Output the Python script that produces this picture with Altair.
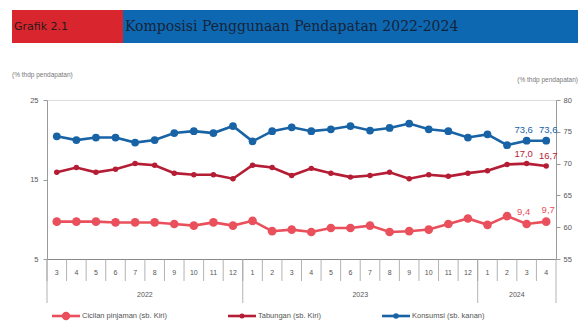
import altair as alt
import pandas as pd

# ---------------- data ----------------
months = [3, 4, 5, 6, 7, 8, 9, 10, 11, 12,
          1, 2, 3, 4, 5, 6, 7, 8, 9, 10, 11, 12,
          1, 2, 3, 4]
years = [2022] * 10 + [2023] * 12 + [2024] * 4

cicilan = [9.7, 9.7, 9.7, 9.6, 9.6, 9.6, 9.4, 9.2, 9.6, 9.2,
           9.8, 8.5, 8.7, 8.4, 8.9, 8.9, 9.2, 8.4, 8.5, 8.7, 9.4, 10.1,
           9.3, 10.4, 9.4, 9.7]
tabungan = [15.9, 16.5, 15.9, 16.3, 17.0, 16.8, 15.8, 15.6, 15.6, 15.1,
            16.8, 16.5, 15.5, 16.4, 15.8, 15.3, 15.5, 15.9, 15.1, 15.6, 15.4, 15.8,
            16.1, 16.9, 17.0, 16.7]
konsumsi = [74.3, 73.7, 74.1, 74.1, 73.3, 73.7, 74.8, 75.1, 74.8, 75.9,
            73.5, 75.1, 75.7, 75.1, 75.4, 75.9, 75.2, 75.6, 76.3, 75.4, 75.1, 74.1,
            74.6, 72.9, 73.6, 73.6]

series_names = ["Cicilan pinjaman (sb. Kiri)", "Tabungan (sb. Kiri)", "Konsumsi (sb. kanan)"]
year_labels = ["2022", "2023", "2024"]
left_ticks = [5, 15, 25]
right_ticks = [55, 60, 65, 70, 75, 80]
title_tag = "Grafik 2.1"
title_text = "Komposisi Penggunaan Pendapatan 2022-2024"
unit_text = "(% thdp pendapatan)"

# ---------------- styling ----------------
PINK = "#e9505c"
RED = "#b51d35"
BLUE = "#1763a5"
GREY = "#555555"
AXC = "#9a9a9a"
FONT = "Liberation Sans"

W, H = 509, 159

keys = [f"{y}-{m}" for y, m in zip(years, months)]

x_axis = alt.Axis(title=None, labelExpr="split(datum.value, '-')[1]", ticks=False,
                  domain=True, domainColor="#888888", labelFontSize=7, labelColor=GREY,
                  labelPadding=9, labelAngle=0, grid=False, labelFont=FONT)


def X(bp=0.5):
    return alt.X("key:O", sort=keys,
                 scale=alt.Scale(type="band", domain=keys, paddingInner=0, paddingOuter=0),
                 axis=x_axis, bandPosition=bp)


left_y = alt.Y("value:Q",
               scale=alt.Scale(domain=[left_ticks[0], left_ticks[-1]], nice=False, zero=False),
               axis=alt.Axis(orient="left", values=left_ticks, title=None, grid=False,
                             tickSize=4, labelPadding=5, domainColor=AXC, tickColor=AXC,
                             labelColor=GREY, labelFontSize=7.5, labelFont=FONT))
right_y = alt.Y("value:Q",
                scale=alt.Scale(domain=[right_ticks[0], right_ticks[-1]], nice=False, zero=False),
                axis=alt.Axis(orient="right", values=right_ticks, title=None, grid=False,
                              tickSize=4, labelPadding=3, domainColor=AXC, tickColor=AXC,
                              labelColor=GREY, labelFontSize=7.5, labelFont=FONT))


def series(values, color, size, yenc, dy):
    d = pd.DataFrame({"key": keys, "value": values})
    line = alt.Chart(d).mark_line(color=color, strokeWidth=2.6).encode(x=X(), y=yenc)
    pts = alt.Chart(d).mark_circle(color=color, size=size, opacity=1).encode(x=X(), y=yenc)
    out = [line, pts]
    lab = d.tail(2).copy()
    lab["txt"] = [f"{v:.1f}".replace(".", ",") for v in lab["value"]]
    for k, dx in zip(range(2), [-3, 2]):
        out.append(alt.Chart(lab.iloc[[k]]).mark_text(
            color=color, fontSize=9.5, dy=dy, dx=dx, font=FONT, baseline="bottom").encode(
            x=X(), y=yenc, text="txt:N"))
    return out


left_group = alt.layer(*series(tabungan, RED, 30, left_y, -5),
                       *series(cicilan, PINK, 75, left_y, -7))
right_group = alt.layer(*series(konsumsi, BLUE, 60, right_y, -6))

# ---------------- x-axis separators and years ----------------
sep = pd.DataFrame({"key": keys})
month_sep = alt.Chart(sep).mark_rule(color="#a0a0a0", strokeWidth=0.8).encode(
    x=X(0), y=alt.value(H), y2=alt.value(H + 22))
end_sep = alt.Chart(pd.DataFrame({"key": [keys[-1]]})).mark_rule(
    color="#a0a0a0", strokeWidth=0.8).encode(x=X(1), y=alt.value(H), y2=alt.value(H + 44))

year_starts = [i for i in range(len(keys)) if i == 0 or years[i] != years[i - 1]]
year_sep = alt.Chart(pd.DataFrame({"key": [keys[i] for i in year_starts]})).mark_rule(
    color="#a0a0a0", strokeWidth=0.8).encode(x=X(0), y=alt.value(H), y2=alt.value(H + 44))

mid_keys = []
for yl in year_labels:
    idx = [i for i, y in enumerate(years) if str(y) == yl]
    mid_keys.append(keys[idx[0] + len(idx) // 2])
year_txt = alt.Chart(pd.DataFrame({"key": mid_keys, "year": year_labels})).mark_text(
    fontSize=7, color=GREY, font=FONT, baseline="middle").encode(
    x=X(0), y=alt.value(H + 36), text="year:N")

# ---------------- title bar ----------------
one = pd.DataFrame({"a": [title_tag], "b": [title_text], "u": [unit_text]})
red_box = alt.Chart(one).mark_rect(color="#d9262e").encode(
    x=alt.value(-35), x2=alt.value(76), y=alt.value(-90), y2=alt.value(-57))
blue_box = alt.Chart(one).mark_rect(color="#0d68b1").encode(
    x=alt.value(76), x2=alt.value(531), y=alt.value(-90), y2=alt.value(-57))
tag_txt = alt.Chart(one).mark_text(align="left", baseline="middle", fontSize=11,
                                   color="#2a1a1a", font="DejaVu Sans").encode(
    x=alt.value(-33), y=alt.value(-73), text="a:N")
ttl_txt = alt.Chart(one).mark_text(align="left", baseline="middle", fontSize=14,
                                   color="#16243a", font="DejaVu Serif").encode(
    x=alt.value(78), y=alt.value(-73), text="b:N")
unit_l = alt.Chart(one).mark_text(align="left", baseline="middle", fontSize=6.5,
                                  color="#777777", font=FONT).encode(
    x=alt.value(-35), y=alt.value(-25), text="u:N")
unit_r = alt.Chart(one).mark_text(align="right", baseline="middle", fontSize=6.5,
                                  color="#777777", font=FONT).encode(
    x=alt.value(531), y=alt.value(-20), text="u:N")

# ---------------- legend ----------------
leg_layers = []
leg_x = [5, 181, 335]
leg_colors = [PINK, RED, BLUE]
leg_sizes = [70, 25, 30]
for name, lx, col, sz in zip(series_names, leg_x, leg_colors, leg_sizes):
    d = pd.DataFrame({"name": [name]})
    leg_layers.append(alt.Chart(d).mark_rule(color=col, strokeWidth=2.6).encode(
        x=alt.value(lx), x2=alt.value(lx + 28), y=alt.value(H + 57)))
    leg_layers.append(alt.Chart(d).mark_circle(color=col, size=sz, opacity=1).encode(
        x=alt.value(lx + 14), y=alt.value(H + 57)))
    leg_layers.append(alt.Chart(d).mark_text(align="left", baseline="middle", fontSize=7.5,
                                             color=GREY, font=FONT).encode(
        x=alt.value(lx + 30), y=alt.value(H + 57), text="name:N"))

chart = alt.layer(
    red_box, blue_box, tag_txt, ttl_txt, unit_l, unit_r,
    month_sep, year_sep, end_sep, year_txt,
    *leg_layers,
    left_group, right_group,
).resolve_scale(y="independent").properties(
    width=W, height=H,
    autosize=alt.AutoSizeParams(type="none"),
    padding={"left": 47, "top": 100, "right": 26, "bottom": 67},
    background="white",
).configure_view(stroke=None).configure(font=FONT)

chart.save("out.html", embed_options={"renderer": "svg", "actions": False})
